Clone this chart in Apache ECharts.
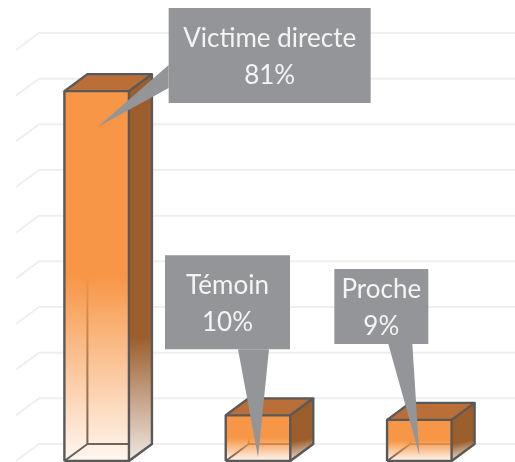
<!DOCTYPE html>
<html>
<head>
<meta charset="utf-8">
<title>Victimes</title>
<script src="https://cdn.jsdelivr.net/npm/echarts@6/dist/echarts.min.js"></script>
<style>
html, body { margin: 0; padding: 0; background: #fff; }
#chart-container { width: 515px; height: 462px; }
</style>
</head>
<body>
<div id="chart-container"></div>
<script>
var categories = ['Victime directe', 'Témoin', 'Proche'];
var percentValues = [81, 10, 9];
var gridTicks = [0, 10, 20, 30, 40, 50, 60, 70, 80, 90];

// callout boxes, in px relative to the top centre of the bar's front face
var calloutLayout = [
    { box: [72, -83, 202, 95], base: [[72, -26], [72, -3]], tip: [1, 36] },
    { box: [-93, -160, 125, 94], base: [[-20, -66], [11, -66]], tip: [0, 42] },
    { box: [-85, -151, 94, 75], base: [[-31, -76], [-7, -76]], tip: [0, 35] }
];

var DEPTH_X = 23;
var DEPTH_Y = 17;
var EDGE = '#595959';

var dom = document.getElementById('chart-container');
var myChart = echarts.init(dom, null, { renderer: 'canvas' });

function line(points, color, width) {
    return {
        type: 'polyline',
        shape: { points: points },
        style: { fill: null, stroke: color, lineWidth: width, lineJoin: 'round' }
    };
}

function poly(points, fill) {
    return {
        type: 'polygon',
        shape: { points: points },
        style: { fill: fill, stroke: null }
    };
}

function renderWall(params, api) {
    var rect = params.coordSys;
    var y = api.coord([0, api.value(0)])[1];
    return line([
        [rect.x, y],
        [rect.x + DEPTH_X, y - DEPTH_Y],
        [rect.x + rect.width + DEPTH_X, y - DEPTH_Y]
    ], '#EFEFEF', 2);
}

function renderBar(params, api) {
    var top = api.coord([api.value(0), api.value(1)]);
    var bottom = api.coord([api.value(0), 0]);
    var w = api.size([1, 0])[0] * 0.4;
    var l = top[0] - w / 2;
    var r = top[0] + w / 2;
    var t = top[1];
    var b = bottom[1];
    var dx = DEPTH_X;
    var dy = DEPTH_Y;

    var frontFill = new echarts.graphic.LinearGradient(0, 0, 0, 1, [
        { offset: 0, color: '#F79646' },
        { offset: 0.5, color: '#F79646' },
        { offset: 1, color: 'rgba(247,150,70,0.08)' }
    ]);
    var sideFill = new echarts.graphic.LinearGradient(0, 0, 0.5, 1, [
        { offset: 0, color: '#9C5E2C' },
        { offset: 0.68, color: '#9C5E2C' },
        { offset: 1, color: '#EFE9E3' }
    ]);

    return {
        type: 'group',
        children: [
            poly([[l, t], [r, t], [r + dx, t - dy], [r + dx, b - dy], [r, b], [l, b], [l, t]], '#fff'),
            line([[l + dx, t - dy], [l + dx, b - dy]], EDGE, 2),
            line([[l, b], [l + dx, b - dy], [r + dx, b - dy]], EDGE, 2),
            poly([[l, t], [r, t], [r, b], [l, b]], frontFill),
            poly([[r, t], [r + dx, t - dy], [r + dx, b - dy], [r, b]], sideFill),
            poly([[l, t], [l + dx, t - dy], [r + dx, t - dy], [r, t]], '#B96F37'),
            line([[l, b], [l, t], [r, t], [r, b], [l, b]], EDGE, 2.4),
            line([[l, t], [l + dx, t - dy], [r + dx, t - dy], [r, t]], EDGE, 2.4),
            line([[r + dx, t - dy], [r + dx, b - dy], [r, b]], EDGE, 2.4)
        ]
    };
}

function renderCallout(params, api) {
    var i = params.dataIndex;
    var top = api.coord([api.value(0), api.value(1)]);
    var c = calloutLayout[i];
    var x = top[0] + c.box[0];
    var y = top[1] + c.box[1];
    function at(p) {
        return [top[0] + p[0], top[1] + p[1]];
    }
    return {
        type: 'group',
        children: [
            {
                type: 'rect',
                shape: { x: x, y: y, width: c.box[2], height: c.box[3] },
                style: { fill: '#939598' }
            },
            poly([at(c.base[0]), at(c.tip), at(c.base[1])], '#939598'),
            {
                type: 'text',
                style: {
                    x: x + c.box[2] / 2,
                    y: y + c.box[3] / 2 + 2,
                    text: categories[i] + '\n' + api.value(1) + '%',
                    fill: '#F4F4F4',
                    font: '26px Lato',
                    lineHeight: 37,
                    align: 'center',
                    verticalAlign: 'middle'
                }
            }
        ]
    };
}

var barData = categories.map(function (name, i) {
    return [i, percentValues[i]];
});

var option = {
    animation: false,
    backgroundColor: '#fff',
    grid: { left: 16, right: 15, top: 50, bottom: 1 },
    xAxis: {
        type: 'category',
        data: categories,
        axisLine: { show: false },
        axisTick: { show: false },
        axisLabel: { show: false }
    },
    yAxis: {
        type: 'value',
        min: 0,
        max: 90,
        interval: 10,
        axisLine: { show: false },
        axisTick: { show: false },
        axisLabel: { show: false },
        splitLine: { show: false }
    },
    series: [
        {
            type: 'custom',
            clip: false,
            silent: true,
            renderItem: renderWall,
            encode: { y: 0 },
            data: gridTicks.map(function (v) { return [v]; })
        },
        {
            type: 'custom',
            clip: false,
            renderItem: renderBar,
            encode: { x: 0, y: 1 },
            data: barData
        },
        {
            type: 'custom',
            clip: false,
            renderItem: renderCallout,
            encode: { x: 0, y: 1 },
            data: barData
        }
    ]
};

myChart.setOption(option);
window.addEventListener('resize', myChart.resize);
</script>
</body>
</html>
